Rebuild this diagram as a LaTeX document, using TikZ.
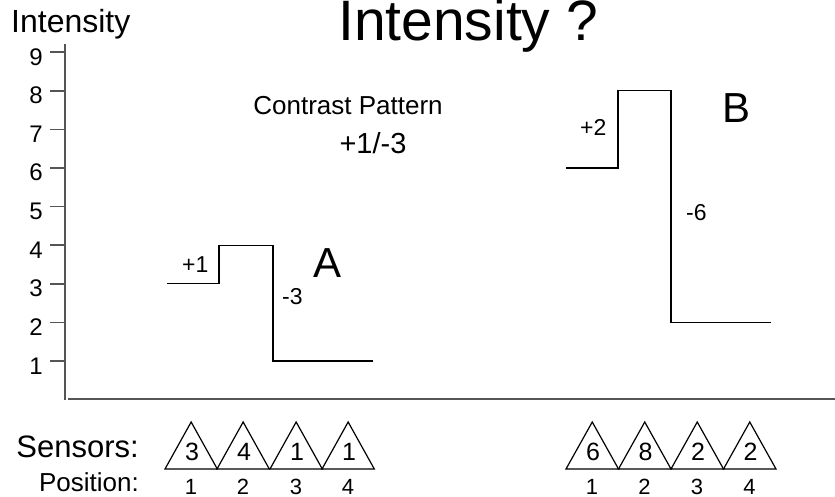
\documentclass[tikz,border=0pt]{standalone}
\usepackage{fontspec}
\setmainfont{Liberation Sans}
\definecolor{axisgray}{HTML}{555555}
\begin{document}
\begin{tikzpicture}[x=1pt,y=-1pt,
  axisline/.style={draw=axisgray,line width=2pt},
  tickline/.style={draw=axisgray,line width=1.6pt},
  stepline/.style={draw=black,line width=1.4pt},
  sensorline/.style={draw=black,line width=1.2pt,line join=miter},
  ticklbl/.style={inner sep=0pt,anchor=base east,font=\fontsize{24}{26}\selectfont},
  steplbl/.style={inner sep=0pt,anchor=base west,font=\fontsize{23}{25}\selectfont},
  biglbl/.style={inner sep=0pt,anchor=base,font=\fontsize{42}{44}\selectfont},
  senslbl/.style={inner sep=0pt,anchor=base,font=\fontsize{25}{27}\selectfont},
  poslbl/.style={inner sep=0pt,anchor=base,font=\fontsize{22}{24}\selectfont}]
\useasboundingbox (0,0) rectangle (835,497);
% title and axis label
\node[inner sep=0pt,anchor=base west,font=\fontsize{57}{60}\selectfont] (title) at (338,40.5) {Intensity ?};
\node[inner sep=0pt,anchor=base west,font=\fontsize{32}{34}\selectfont] (ylabel) at (11,33) {Intensity};
% axes
\coordinate (ytop) at (65,44);
\coordinate (ybot) at (65,400);
\coordinate (xleft) at (68,399);
\coordinate (xright) at (835,399);
\draw[axisline] (ytop) -- (ybot);
\draw[axisline] (xleft) -- (xright);
\foreach \v in {1,...,9}{
  \pgfmathsetmacro{\yy}{399.6-38.6*\v}
  \coordinate (t\v) at (65,\yy);
  \draw[tickline] (t\v) -- ++(-15,0);
  \node[ticklbl] (tl\v) at (43,\yy+13) {\v};
}
% contrast pattern text
\node[inner sep=0pt,anchor=base,font=\fontsize{26}{28}\selectfont] (cp) at (348,115) {Contrast Pattern};
\node[inner sep=0pt,anchor=base,font=\fontsize{29}{31}\selectfont] (cpv) at (373,154) {+1/-3};
% step A
\draw[stepline] (167,283.2) -- (219,283.2) -- (219,245.2) -- (273,245.2) -- (273,361) -- (373,361);
\node[steplbl] (pA) at (182,272) {+1};
\node[steplbl] (mA) at (282,304) {-3};
\node[biglbl] (A) at (328,277) {A};
% step B
\draw[stepline] (566,168) -- (618,168) -- (618,90.8) -- (671,90.8) -- (671,322.4) -- (771,322.4);
\node[steplbl] (pB) at (580,136) {+2};
\node[steplbl] (mB) at (686,221) {-6};
\node[biglbl] (B) at (736,123) {B};
% sensors
\node[inner sep=0pt,anchor=base east,font=\fontsize{31}{33}\selectfont] (sens) at (139,457) {Sensors:};
\node[inner sep=0pt,anchor=base east,font=\fontsize{26}{28}\selectfont] (pos) at (139,491) {Position:};
\foreach \x/\n/\p [count=\i] in {165/3/1,217/4/2,270/1/3,322/1/4}{
  \draw[sensorline] (\x,469) -- ++(52.3,0) -- ++(-26.15,-47) -- cycle;
  \node[senslbl] (sa\i) at (\x+27,460) {\n};
  \node[poslbl] (pa\i) at (\x+26,494) {\p};
}
\foreach \x/\n/\p [count=\i] in {566/6/1,618.5/8/2,671/2/3,723.5/2/4}{
  \draw[sensorline] (\x,469) -- ++(52.5,0) -- ++(-26.25,-47) -- cycle;
  \node[senslbl] (sb\i) at (\x+27,460) {\n};
  \node[poslbl] (pb\i) at (\x+26,494) {\p};
}
\end{tikzpicture}
\end{document}
